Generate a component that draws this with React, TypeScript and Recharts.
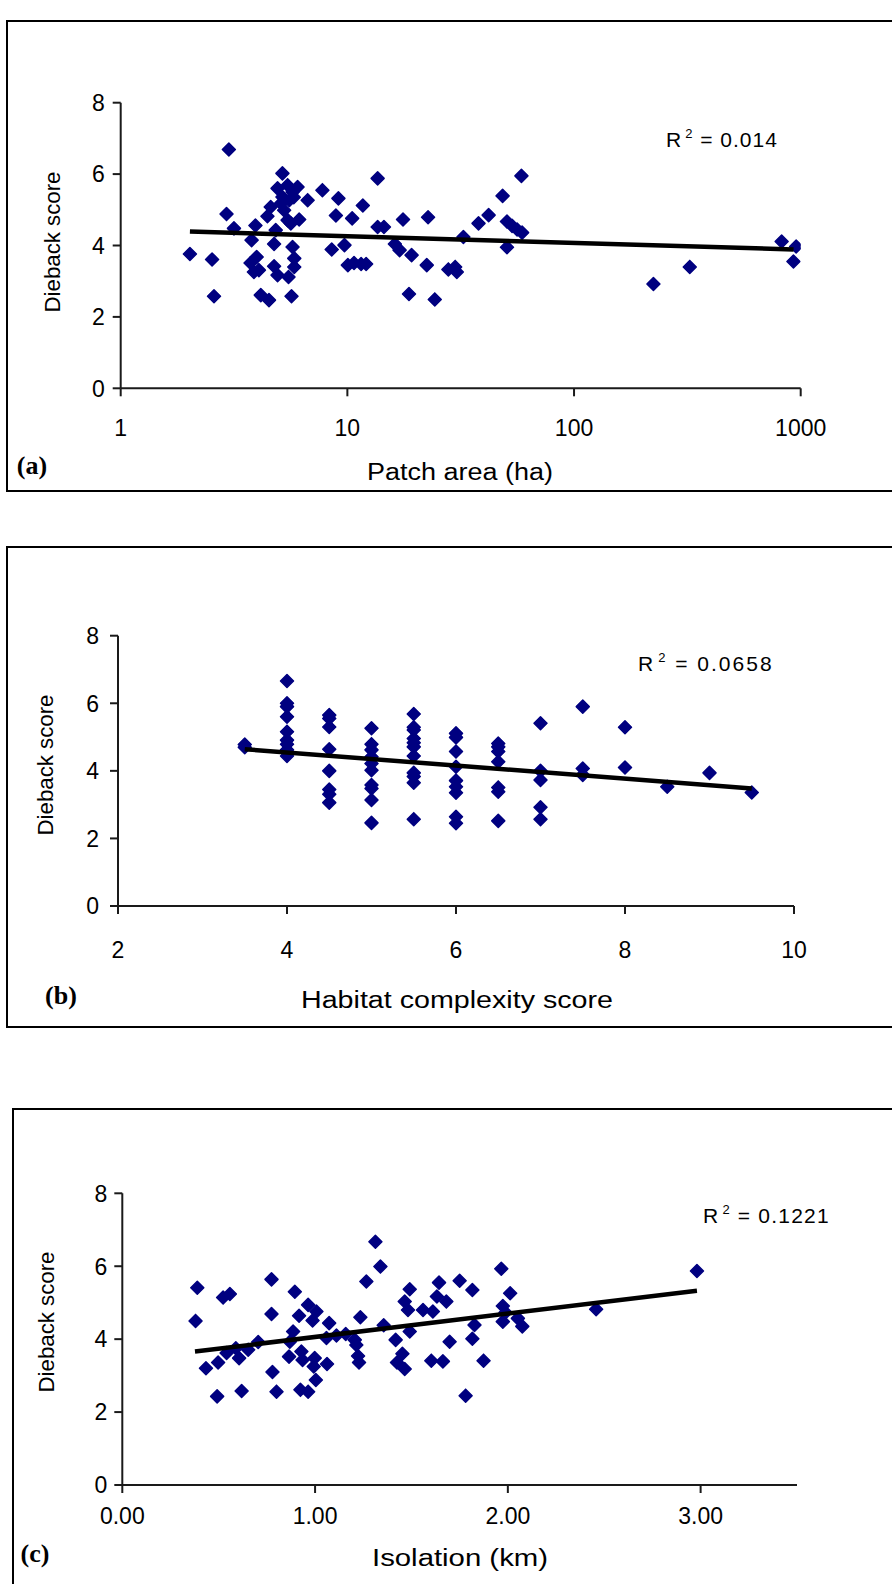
import React from "react";
import { ScatterChart, Scatter, XAxis, YAxis } from "recharts";

// (a) patch area (ha) vs dieback score
const patchArea = [
  2.02, 2.53, 2.58, 3.0, 2.93, 3.16, 3.78, 3.93, 3.74, 3.98, 3.87, 4.07, 4.15, 4.51, 4.44, 4.59,
  4.75, 4.83, 4.75, 4.92, 5.17, 4.92, 5.17, 5.45, 5.1, 5.26, 5.54, 6.03, 5.73, 5.8, 5.45, 6.13,
  5.63, 5.73, 5.83, 5.83, 5.5, 5.67, 6.68, 7.76, 9.13, 8.9, 8.53, 9.71, 10.5, 10.05, 10.7, 11.5,
  12.1, 11.7, 13.6, 13.6, 14.5, 16.2, 17.0, 17.6, 19.2, 18.7, 22.4, 22.7, 24.3, 27.9, 29.9, 30.4,
  32.5, 37.9, 42.0, 48.4, 58.6, 50.6, 53.3, 56.1, 59.0, 50.6, 224, 324, 824, 955, 929,
];
const patchDieback = [
  3.76, 3.61, 2.58, 6.69, 4.88, 4.48, 4.15, 4.56, 3.51, 3.68, 3.26, 3.31, 2.61, 2.47, 4.82, 5.08,
  4.04, 4.43, 3.42, 3.17, 6.02, 5.6, 5.36, 5.69, 5.18, 4.99, 5.27, 5.64, 5.5, 5.35, 4.71, 4.73,
  4.62, 3.96, 3.64, 3.4, 3.12, 2.58, 5.27, 5.55, 5.32, 4.84, 3.89, 4.01, 4.76, 3.45, 3.51, 3.48,
  3.48, 5.12, 5.88, 4.52, 4.52, 4.04, 3.87, 4.73, 3.73, 2.64, 3.45, 4.79, 2.49, 3.33, 3.4, 3.26,
  4.24, 4.62, 4.85, 5.39, 5.95, 4.67, 4.55, 4.45, 4.36, 3.95, 2.92, 3.4, 4.11, 3.97, 3.55,
];
const patchTrendX = [2.02, 930];
const patchTrendY = [4.39, 3.89];

// (b) habitat complexity score vs dieback score
const complexity = [
  3.5, 3.5,
  4, 4, 4, 4, 4, 4, 4, 4, 4,
  4.5, 4.5, 4.5, 4.5, 4.5, 4.5, 4.5, 4.5,
  5, 5, 5, 5, 5, 5, 5, 5, 5, 5,
  5.5, 5.5, 5.5, 5.5, 5.5, 5.5, 5.5, 5.5, 5.5, 5.5, 5.5,
  6, 6, 6, 6, 6, 6, 6, 6, 6,
  6.5, 6.5, 6.5, 6.5, 6.5, 6.5, 6.5,
  7, 7, 7, 7, 7,
  7.5, 7.5, 7.5,
  8, 8,
  8.5, 9, 9.5,
];
const complexityDieback = [
  4.78, 4.7,
  6.66, 6.0, 5.9, 5.6, 5.16, 4.91, 4.79, 4.62, 4.44,
  5.65, 5.55, 5.3, 4.64, 4.0, 3.45, 3.31, 3.06,
  5.26, 4.79, 4.62, 4.42, 4.22, 4.02, 3.58, 3.48, 3.14, 2.46,
  5.68, 5.29, 5.21, 4.96, 4.83, 4.71, 4.44, 3.94, 3.83, 3.65, 2.57,
  5.11, 4.99, 4.57, 4.12, 3.71, 3.53, 3.35, 2.64, 2.45,
  4.81, 4.71, 4.57, 4.27, 3.51, 3.38, 2.52,
  5.41, 4.0, 3.73, 2.92, 2.57,
  5.9, 4.07, 3.88,
  5.29, 4.1,
  3.53, 3.94, 3.36,
];
const complexityTrendX = [3.5, 9.5];
const complexityTrendY = [4.64, 3.48];

// (c) isolation (km) vs dieback score
const isolation = [
  0.389, 0.38, 0.434, 0.492, 0.497, 0.523, 0.558, 0.541, 0.589, 0.606, 0.619, 0.653, 0.705, 0.774,
  0.774, 0.779, 0.8, 0.865, 0.869, 0.886, 0.895, 0.917, 0.929, 0.935, 0.924, 0.964, 0.964, 0.987,
  1.007, 0.998, 0.993, 1.004, 1.059, 1.062, 1.073, 1.111, 1.159, 1.206, 1.214, 1.223, 1.228, 1.235,
  1.266, 1.313, 1.339, 1.356, 1.418, 1.425, 1.453, 1.465, 1.465, 1.491, 1.482, 1.491, 1.56, 1.611,
  1.643, 1.632, 1.681, 1.75, 1.816, 1.698, 1.603, 1.663, 1.781, 1.816, 1.827, 1.874, 1.966, 2.012,
  1.974, 1.988, 1.974, 2.052, 2.075, 2.458, 2.981,
];
const isolationDieback = [
  5.41, 4.5, 3.2, 2.43, 3.36, 5.14, 5.24, 3.62, 3.75, 3.48, 2.58, 3.71, 3.92, 5.64,
  4.69, 3.1, 2.56, 3.52, 3.93, 4.21, 5.3, 4.64, 3.66, 3.43, 2.61, 2.56, 4.94, 4.51,
  4.76, 3.48, 3.25, 2.88, 4.03, 3.32, 4.44, 4.1, 4.14, 3.98, 3.84, 3.54, 3.36, 4.6,
  5.58, 6.67, 5.99, 4.38, 3.98, 3.36, 3.6, 3.18, 5.03, 5.37, 4.8, 4.21, 4.8, 4.76,
  5.55, 5.17, 5.03, 5.6, 5.35, 3.93, 3.41, 3.39, 2.45, 4.01, 4.39, 3.41, 5.93, 5.26,
  4.91, 4.73, 4.48, 4.57, 4.35, 4.82, 5.87,
];
const isolationTrendX = [0.377, 2.981];
const isolationTrendY = [3.66, 5.33];

const areaTicks = [1, 10, 100, 1000];
const complexityTicks = [2, 4, 6, 8, 10];
const isolationTicks = [0, 1, 2, 3];
const scoreTicks = [0, 2, 4, 6, 8];

const pairs = (xs: number[], ys: number[]) => xs.map((x, i) => ({ x, y: ys[i] }));

const NAVY = "#000080";
const AXIS = "#1a1a1a";
const SANS = "'Liberation Sans', Arial, Helvetica, sans-serif";
const SERIF = "'Liberation Serif', 'Times New Roman', serif";

function Diamond(props: any) {
  const { cx, cy } = props;
  if (cx == null || cy == null) return <g />;
  const r = 6.5;
  return (
    <path
      d={`M${cx},${cy - r}L${cx + r},${cy}L${cx},${cy + r}L${cx - r},${cy}Z`}
      fill={NAVY}
      stroke={NAVY}
      strokeWidth={1.5}
      strokeLinejoin="round"
    />
  );
}

const NoDot = () => <g />;

function makeTick(format: (v: number) => string, anchor: "middle" | "end") {
  return (props: any) => {
    const { x, y, payload } = props;
    return (
      <text x={x} y={y} dy="0.36em" textAnchor={anchor} fontSize={23} fontFamily={SANS} fill="#000">
        {format(payload.value)}
      </text>
    );
  };
}

type PanelProps = {
  top: number;
  height: number;
  plotTop: number;
  plotBottom: number;
  plotLeft: number;
  plotRight: number;
  points: { x: number; y: number }[];
  trend: { x: number; y: number }[];
  xDomain: [number, number];
  xTicks: number[];
  xLog?: boolean;
  xFormat: (v: number) => string;
  xTickMargin: number;
  yTickMargin: number;
};

function Panel(p: PanelProps) {
  const yW = 100;
  const xH = 70;
  const axisLine = { stroke: AXIS, strokeWidth: 2 };
  return (
    <div style={{ position: "absolute", left: 0, top: p.top }}>
      <ScatterChart
        width={892}
        height={p.height}
        margin={{
          top: p.plotTop - p.top,
          right: 892 - p.plotRight,
          bottom: p.top + p.height - p.plotBottom - xH,
          left: p.plotLeft - yW,
        }}
      >
        <XAxis
          type="number"
          dataKey="x"
          scale={p.xLog ? "log" : "linear"}
          domain={p.xDomain}
          ticks={p.xTicks}
          allowDataOverflow
          interval={0}
          height={xH}
          tickSize={8}
          tickMargin={p.xTickMargin}
          tick={makeTick(p.xFormat, "middle")}
          axisLine={axisLine}
          tickLine={axisLine}
        />
        <YAxis
          type="number"
          dataKey="y"
          domain={[0, 8]}
          ticks={scoreTicks}
          allowDataOverflow
          interval={0}
          width={yW}
          tickSize={8}
          tickMargin={p.yTickMargin}
          tick={makeTick((v) => String(v), "end")}
          axisLine={axisLine}
          tickLine={axisLine}
        />
        <Scatter data={p.points} shape={Diamond} isAnimationActive={false} />
        <Scatter
          data={p.trend}
          shape={NoDot}
          line={{ stroke: "#000", strokeWidth: 4.5, fill: "none" }}
          isAnimationActive={false}
        />
      </ScatterChart>
    </div>
  );
}

function RSquared({ x, y, value, spacing }: { x: number; y: number; value: string; spacing: number }) {
  return (
    <text x={x} y={y} fontSize={21} fontFamily={SANS} fill="#000" letterSpacing={spacing}>
      R
      <tspan dx={3} dy={-9} fontSize={13}>
        2
      </tspan>
      <tspan dy={9}> = {value}</tspan>
    </text>
  );
}

function YTitle({ cx, cy }: { cx: number; cy: number }) {
  return (
    <text
      x={cx}
      y={cy}
      transform={`rotate(-90 ${cx} ${cy})`}
      textAnchor="middle"
      dominantBaseline="central"
      fontSize={22}
      textLength={141}
      lengthAdjust="spacingAndGlyphs"
      fontFamily={SANS}
      fill="#000"
    >
      Dieback score
    </text>
  );
}

function XTitle({ cx, cy, w, children }: { cx: number; cy: number; w: number; children: string }) {
  return (
    <text
      x={cx}
      y={cy}
      textAnchor="middle"
      dominantBaseline="central"
      fontSize={23}
      textLength={w}
      lengthAdjust="spacingAndGlyphs"
      fontFamily={SANS}
      fill="#000"
    >
      {children}
    </text>
  );
}

function Letter({ cx, cy, children }: { cx: number; cy: number; children: string }) {
  return (
    <text x={cx} y={cy} textAnchor="middle" dominantBaseline="central" fontSize={26} fontWeight="bold" fontFamily={SERIF} fill="#000">
      {children}
    </text>
  );
}

export default function App() {
  const frame = (left: number, top: number, height: number, bottom = true) => ({
    position: "absolute" as const,
    left,
    top,
    width: 920,
    height,
    borderLeft: "2px solid #000",
    borderTop: "2px solid #000",
    borderBottom: bottom ? "2px solid #000" : "none",
    boxSizing: "border-box" as const,
  });

  return (
    <div
      style={{
        position: "absolute",
        left: 0,
        top: 0,
        width: 892,
        height: 1584,
        overflow: "hidden",
        background: "#fff",
        fontFamily: SANS,
      }}
    >
      <div style={frame(6, 20, 472)} />
      <div style={frame(6, 546, 482)} />
      <div style={frame(12, 1108, 500, false)} />

      <Panel
        top={0}
        height={500}
        plotTop={102.7}
        plotBottom={388.3}
        plotLeft={120.7}
        plotRight={800.7}
        points={pairs(patchArea, patchDieback)}
        trend={pairs(patchTrendX, patchTrendY)}
        xDomain={[1, 1000]}
        xTicks={areaTicks}
        xLog
        xFormat={(v) => String(v)}
        xTickMargin={31}
        yTickMargin={8}
      />
      <Panel
        top={500}
        height={530}
        plotTop={635.7}
        plotBottom={906}
        plotLeft={118}
        plotRight={794}
        points={pairs(complexity, complexityDieback)}
        trend={pairs(complexityTrendX, complexityTrendY)}
        xDomain={[2, 10]}
        xTicks={complexityTicks}
        xFormat={(v) => String(v)}
        xTickMargin={36}
        yTickMargin={11}
      />
      <Panel
        top={1030}
        height={554}
        plotTop={1193.3}
        plotBottom={1485}
        plotLeft={122.3}
        plotRight={797}
        points={pairs(isolation, isolationDieback)}
        trend={pairs(isolationTrendX, isolationTrendY)}
        xDomain={[0, 3.5]}
        xTicks={isolationTicks}
        xFormat={(v) => v.toFixed(2)}
        xTickMargin={23}
        yTickMargin={7}
      />

      <svg
        width={892}
        height={1584}
        style={{ position: "absolute", left: 0, top: 0, pointerEvents: "none" }}
      >
        <YTitle cx={52} cy={242} />
        <XTitle cx={460} cy={472} w={186}>Patch area (ha)</XTitle>
        <Letter cx={32} cy={465}>(a)</Letter>
        <RSquared x={666} y={147} value="0.014" spacing={1} />

        <YTitle cx={45} cy={765} />
        <XTitle cx={457} cy={1000} w={312}>Habitat complexity score</XTitle>
        <Letter cx={61} cy={995}>(b)</Letter>
        <RSquared x={638} y={671} value="0.0658" spacing={2} />

        <YTitle cx={46} cy={1322} />
        <XTitle cx={460} cy={1558} w={176}>Isolation (km)</XTitle>
        <Letter cx={35} cy={1553}>(c)</Letter>
        <RSquared x={703} y={1223} value="0.1221" spacing={1.2} />
      </svg>
    </div>
  );
}
